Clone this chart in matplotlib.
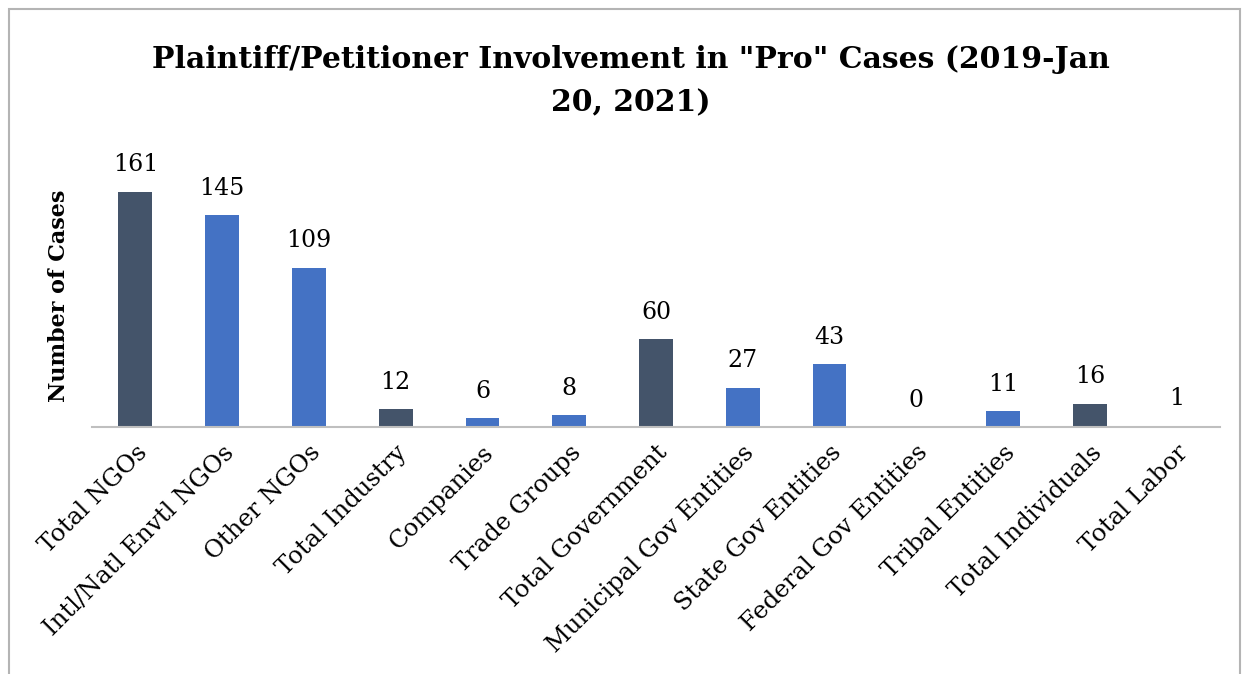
import numpy as np
import matplotlib.pyplot as plt

categories = ['Total NGOs', 'Intl/Natl Envtl NGOs', 'Other NGOs', 'Total Industry',
              'Companies', 'Trade Groups', 'Total Government', 'Municipal Gov Entities',
              'State Gov Entities', 'Federal Gov Entities', 'Tribal Entities',
              'Total Individuals', 'Total Labor']
cases = [161, 145, 109, 12, 6, 8, 60, 27, 43, 0, 11, 16, 1]
is_total = [True, False, False, True, False, False, True, False, False, False, False, True, True]

dark = '#44546A'
blue = '#4472C4'
colors = [dark if t else blue for t in is_total]

plt.rcParams['font.family'] = ['DejaVu Serif']

fig = plt.figure(figsize=(12.46, 6.74), dpi=100)
# chart border like the excel chart area
fig.patches.append(plt.Rectangle((9 / 1246, -0.1), 1231 / 1246, 1 - 9 / 674 + 0.1,
                                 transform=fig.transFigure, fill=False,
                                 edgecolor='#B4B4B4', linewidth=1.5))

ax = fig.add_axes([92 / 1246, 1 - 427 / 674, 1128 / 1246, 263 / 674])
x = np.arange(len(categories))
bars = ax.bar(x, cases, width=0.39, color=colors)

for xi, v in zip(x, cases):
    ax.annotate(str(v), (xi, v), xytext=(0, 11), textcoords='offset points',
                ha='center', va='bottom', fontsize=17)

ax.set_xlim(-0.5, len(categories) - 0.5)
ax.set_ylim(0, 180)
ax.set_yticks([])
ax.set_xticks(x)
ax.set_xticklabels(categories, rotation=45, ha='right', rotation_mode='anchor', fontsize=17.5)
ax.tick_params(axis='x', length=0, pad=10)
for s in ['top', 'right', 'left']:
    ax.spines[s].set_visible(False)
ax.spines['bottom'].set_color('#BFBFBF')
ax.spines['bottom'].set_linewidth(1.5)

ax.set_ylabel('Number of Cases', fontsize=16, fontweight='bold', labelpad=16)

fig.text(0.506, 1 - 81 / 674, 'Plaintiff/Petitioner Involvement in "Pro" Cases (2019-Jan\n20, 2021)',
         ha='center', va='center', fontsize=21.5, fontweight='bold', linespacing=1.65)

fig.savefig('out.png', dpi=100)
